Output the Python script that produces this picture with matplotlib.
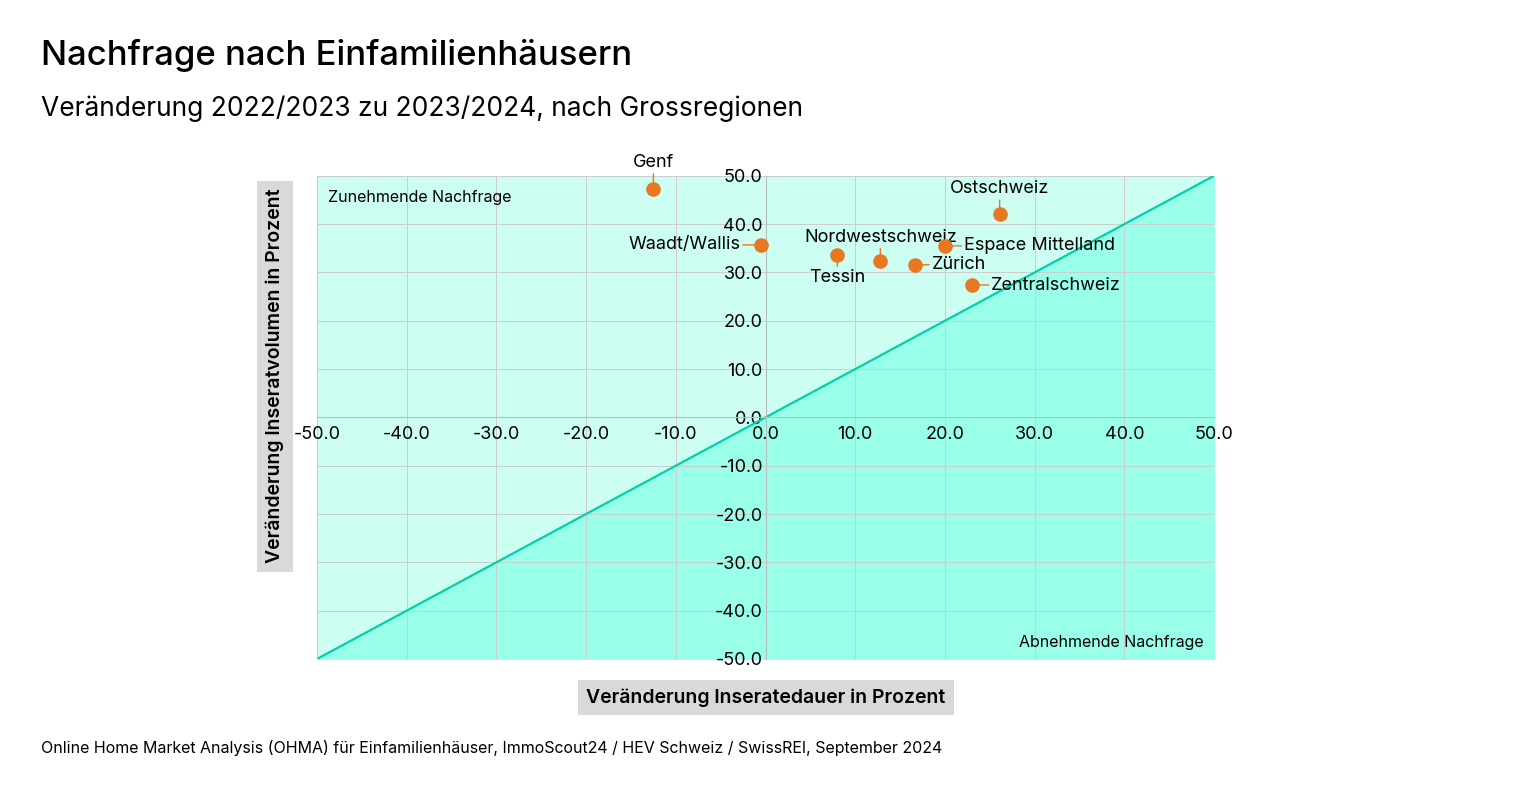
import matplotlib.pyplot as plt
import numpy as np

plt.rcParams['font.family'] = ['Inter', 'DejaVu Sans']

regions = ['Genf', 'Waadt/Wallis', 'Tessin', 'Nordwestschweiz', 'Zürich',
           'Espace Mittelland', 'Ostschweiz', 'Zentralschweiz']
dauer = [-12.5, -0.5, 8.0, 12.8, 16.7, 20.0, 26.1, 23.0]
volumen = [47.3, 35.7, 33.6, 32.4, 31.6, 35.5, 42.1, 27.4]
# label offsets (points) and alignment
offsets = {
    'Genf': (0, 13, 'center', 'bottom'),
    'Waadt/Wallis': (-15, 0, 'right', 'center'),
    'Tessin': (0, -10, 'center', 'top'),
    'Nordwestschweiz': (0, 11, 'center', 'bottom'),
    'Zürich': (12, 0, 'left', 'center'),
    'Espace Mittelland': (14, 0, 'left', 'center'),
    'Ostschweiz': (0, 12, 'center', 'bottom'),
    'Zentralschweiz': (14, 0, 'left', 'center'),
}
ticks = np.arange(-50, 51, 10)

fig = plt.figure(figsize=(15.36, 7.92), dpi=100)
ax = fig.add_axes([0.2064, 0.168, 0.584, 0.61])
ax.set_xlim(-50, 50)
ax.set_ylim(-50, 50)

ax.fill_between([-50, 50], [-50, 50], 50, color='#ccfff1', zorder=0)
ax.fill_between([-50, 50], -50, [-50, 50], color='#99ffe8', zorder=0)
ax.plot([-50, 50], [-50, 50], color='#00d1aa', lw=1.6, zorder=2)
ax.grid(True, color='#cccccc', lw=0.7, zorder=1)
ax.set_axisbelow(True)

for s in ['top', 'right']:
    ax.spines[s].set_visible(False)
ax.spines['left'].set_position(('data', 0))
ax.spines['bottom'].set_position(('data', 0))
ax.spines['left'].set_color('#bbbbbb')
ax.spines['bottom'].set_color('#bbbbbb')
ax.set_xticks(ticks)
ax.set_yticks(ticks)
ax.set_xticklabels([f'{t:.1f}' for t in ticks], fontsize=13)
ax.set_yticklabels([f'{t:.1f}' for t in ticks], fontsize=13)
ax.tick_params(length=0, pad=2)
ax.tick_params(axis='x', pad=6)

ax.scatter(dauer, volumen, s=90, color='#e87722', zorder=4)
for name, x, y in zip(regions, dauer, volumen):
    dx, dy, ha, va = offsets[name]
    ax.annotate(name, (x, y), xytext=(dx, dy), textcoords='offset points',
                ha=ha, va=va, fontsize=13,
                arrowprops=dict(arrowstyle='-', color='#e87722', lw=1,
                                shrinkA=0, shrinkB=4))

ax.text(-48.8, 45.5, 'Zunehmende Nachfrage', fontsize=11.5, va='center')
ax.text(48.8, -46.5, 'Abnehmende Nachfrage', fontsize=11.5, va='center', ha='right')

fig.text(0.4987, 0.119, 'Veränderung Inseratedauer in Prozent', fontsize=14,
         fontweight='semibold', ha='center', va='center',
         bbox=dict(facecolor='#d9d9d9', edgecolor='none', pad=6))
fig.text(0.179, 0.525, 'Veränderung Inseratvolumen in Prozent', fontsize=14,
         fontweight='semibold', ha='center', va='center', rotation=90,
         bbox=dict(facecolor='#d9d9d9', edgecolor='none', pad=6))

fig.text(0.027, 0.93, 'Nachfrage nach Einfamilienhäusern', fontsize=25,
         fontweight='medium', va='center')
fig.text(0.027, 0.863, 'Veränderung 2022/2023 zu 2023/2024, nach Grossregionen',
         fontsize=19, va='center')
fig.text(0.027, 0.056, 'Online Home Market Analysis (OHMA) für Einfamilienhäuser, '
         'ImmoScout24 / HEV Schweiz / SwissREI, September 2024', fontsize=11.5,
         va='center')

fig.savefig('out.png', dpi=100)
